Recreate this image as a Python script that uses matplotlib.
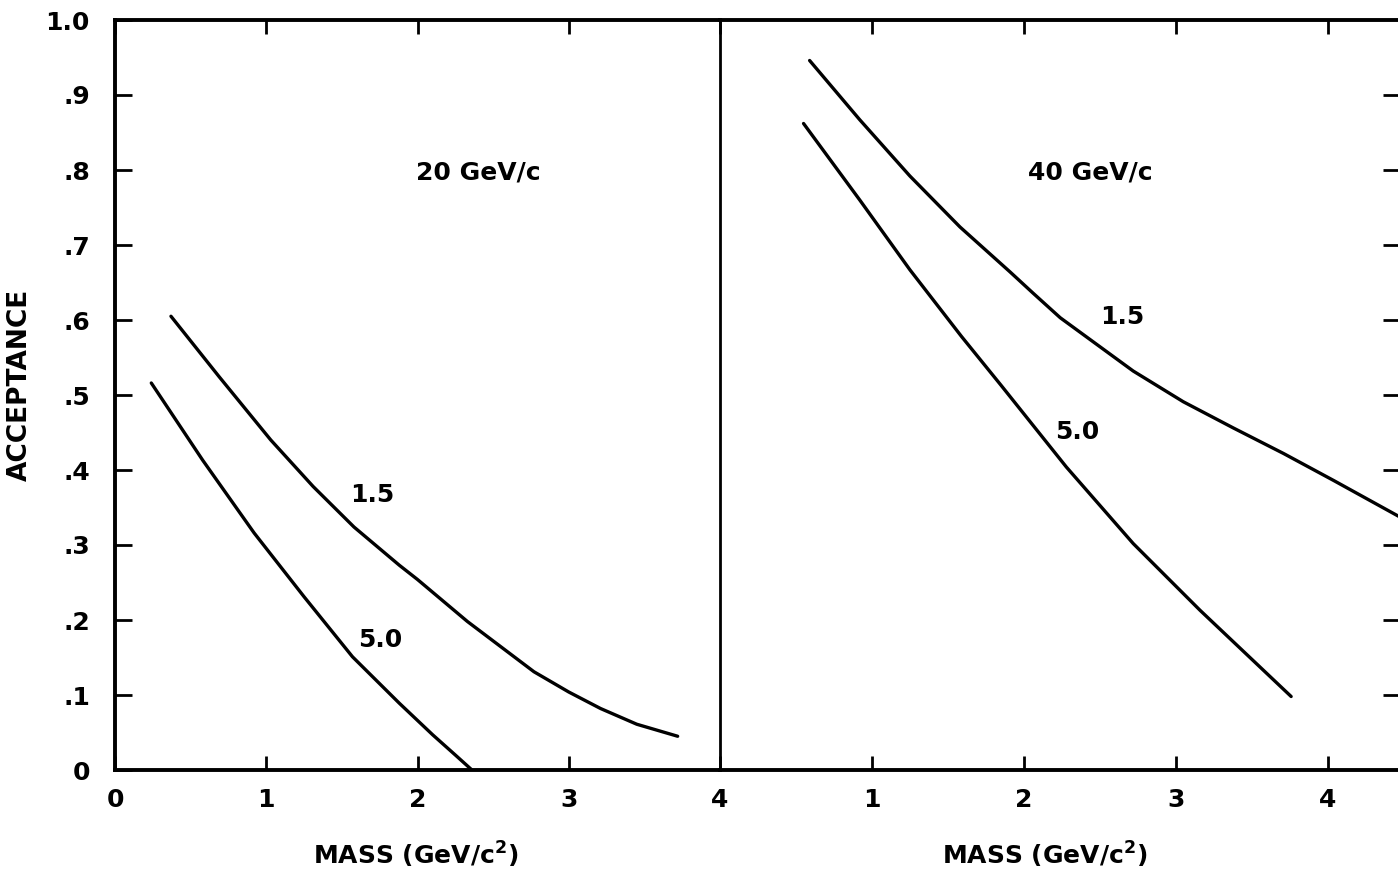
import numpy as np
import matplotlib
matplotlib.use('Agg')
import matplotlib.pyplot as plt

plt.rcParams['font.family'] = ['DejaVu Sans']
plt.rcParams['font.weight'] = 'bold'

# 20 GeV/c panel, curves
mass_20_p15 = [0.37, 0.69, 1.03, 1.31, 1.58, 1.88, 2.00, 2.33, 2.77, 3.00, 3.21, 3.45, 3.72]
acc_20_p15 = [0.605, 0.524, 0.440, 0.378, 0.324, 0.273, 0.254, 0.198, 0.131, 0.104, 0.082, 0.061, 0.045]
mass_20_p50 = [0.24, 0.58, 0.92, 1.25, 1.57, 1.88, 2.10, 2.25, 2.36]
acc_20_p50 = [0.516, 0.413, 0.316, 0.231, 0.151, 0.089, 0.047, 0.020, 0.0]

# 40 GeV/c panel
mass_40_p15 = [0.59, 0.92, 1.25, 1.58, 1.91, 2.06, 2.24, 2.72, 3.05, 3.38, 3.71, 4.04, 4.47]
acc_40_p15 = [0.946, 0.867, 0.792, 0.724, 0.664, 0.636, 0.603, 0.532, 0.491, 0.456, 0.422, 0.386, 0.338]
mass_40_p50 = [0.55, 0.92, 1.25, 1.59, 1.85, 2.28, 2.72, 3.16, 3.76]
acc_40_p50 = [0.862, 0.760, 0.667, 0.578, 0.513, 0.404, 0.302, 0.213, 0.098]

yticks = [0, 0.1, 0.2, 0.3, 0.4, 0.5, 0.6, 0.7, 0.8, 0.9, 1.0]
ytick_labels = ['0', '.1', '.2', '.3', '.4', '.5', '.6', '.7', '.8', '.9', '1.0']

W, H = 1398, 872
fig = plt.figure(figsize=(W / 100, H / 100), dpi=100)
fig.patch.set_facecolor('white')

ax1 = fig.add_axes([115 / W, 102 / H, 605 / W, 750 / H])
ax2 = fig.add_axes([720 / W, 102 / H, 680 / W, 750 / H])
ax2.patch.set_alpha(0)

lw_curve = 2.4
for ax, xs, ys in [(ax1, mass_20_p15, acc_20_p15), (ax1, mass_20_p50, acc_20_p50),
                   (ax2, mass_40_p15, acc_40_p15), (ax2, mass_40_p50, acc_40_p50)]:
    ax.plot(xs, ys, color='black', lw=lw_curve, solid_capstyle='round',
            solid_joinstyle='round')

ax1.set_xlim(0, 4)
ax1.set_ylim(0, 1.0)
ax2.set_xlim(0, 680 / 151.9)
ax2.set_ylim(0, 1.0)

fs = 18
for ax in (ax1, ax2):
    for s in ('left', 'bottom', 'top'):
        ax.spines[s].set_linewidth(2.8)
    ax.spines['right'].set_visible(False)
    ax.tick_params(axis='x', direction='in', length=10, width=2, top=True,
                   labelsize=fs, pad=13)

ax2.spines['left'].set_linewidth(2.0)

ax1.set_xticks([0, 1, 2, 3, 4])
ax1.set_xticklabels(['0', '1', '2', '3', '4'])
ax1.set_yticks(yticks)
ax1.set_yticklabels(ytick_labels)
ax1.tick_params(axis='y', direction='in', length=12, width=2, labelsize=fs, pad=18)

ax2.set_xticks([1, 2, 3, 4])
ax2.set_xticklabels(['1', '2', '3', '4'])
ax2.set_yticks(yticks[1:-1])
ax2.tick_params(axis='y', direction='in', length=12, width=2, left=False, right=True,
                labelleft=False, labelright=False)

ax1.set_ylabel('ACCEPTANCE', fontsize=19, fontweight='bold')
ax1.yaxis.set_label_coords(-0.136, 0.513)
ax1.set_xlabel('MASS (GeV/c$^{\\mathbf{2}}$)', fontsize=18, fontweight='bold')
ax1.xaxis.set_label_coords(0.497, -0.093)
ax2.set_xlabel('MASS (GeV/c$^{\\mathbf{2}}$)', fontsize=18, fontweight='bold')
ax2.xaxis.set_label_coords((1045 - 720) / 680, -0.093)

ax1.text(2.4, 0.797, '20 GeV/c', fontsize=18, fontweight='bold', ha='center', va='center')
ax1.text(1.70, 0.367, '1.5', fontsize=18, fontweight='bold', ha='center', va='center')
ax1.text(1.75, 0.173, '5.0', fontsize=18, fontweight='bold', ha='center', va='center')
ax2.text(2.44, 0.797, '40 GeV/c', fontsize=18, fontweight='bold', ha='center', va='center')
ax2.text(2.65, 0.604, '1.5', fontsize=18, fontweight='bold', ha='center', va='center')
ax2.text(2.35, 0.451, '5.0', fontsize=18, fontweight='bold', ha='center', va='center')

fig.savefig('out.png', dpi=100)
